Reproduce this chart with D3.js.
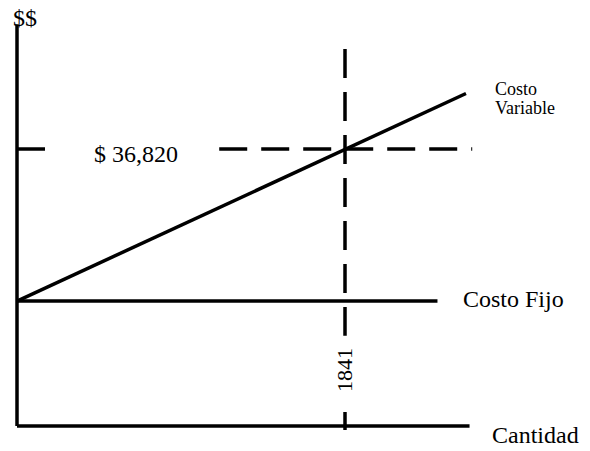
<!DOCTYPE html>
<html>
<head>
<meta charset="utf-8">
<script src="https://cdn.jsdelivr.net/npm/d3@7"></script>
<style>
  body { margin: 0; background: #fff; }
</style>
</head>
<body>
<script>
// punto de equilibrio
const equilibrioQ = 1841
const equilibrioCosto = 36820
// costo fijo y linea de costo variable (cantidad, $)
const costoFijo = [[0, 16600], [2360, 16600]]
const costoVariable = [[0, 16600], [2520, 44200]]
// ejes
const ejeX = [[0, 0], [2540, 0]]
const ejeY = [[0, 0], [0, 53400]]
// guias punteadas
const guiaH = [[[0, 36820], [170, 36820]], [[1135, 36820], [2555, 36820]]]
const guiaV = [[[1841, 50100], [1841, 12000]], [[1841, 1860], [1841, -530]]]

const w = 590
const h = 451

const svg = d3.select("body")
  .append("svg")
  .attr("width", w)
  .attr("height", h)
  .style("font-family", "'Liberation Serif', 'Times New Roman', 'DejaVu Serif', serif")

const xScale = d3.scaleLinear()
  .domain([0, equilibrioQ])
  .range([17, 345])
const yScale = d3.scaleLinear()
  .domain([0, equilibrioCosto])
  .range([426, 149])

const line = d3.line()
  .x(d => xScale(d[0]))
  .y(d => yScale(d[1]))

// ejes
svg.selectAll(".eje")
  .data([ejeX, ejeY])
  .enter()
  .append("path")
  .attr("class", "eje")
  .attr("d", line)
  .attr("stroke", "#000")
  .attr("stroke-width", 3.5)
  .attr("fill", "none")

// guias punteadas
svg.selectAll(".guiaH")
  .data(guiaH)
  .enter()
  .append("path")
  .attr("d", line)
  .attr("stroke", "#000")
  .attr("stroke-width", 3.5)
  .attr("stroke-dasharray", "28,14")
  .attr("fill", "none")

svg.selectAll(".guiaV")
  .data(guiaV)
  .enter()
  .append("path")
  .attr("d", line)
  .attr("stroke", "#000")
  .attr("stroke-width", 3.5)
  .attr("stroke-dasharray", "29,14")
  .attr("fill", "none")

// costos
svg.selectAll(".costo")
  .data([costoFijo, costoVariable])
  .enter()
  .append("path")
  .attr("class", "costo")
  .attr("d", line)
  .attr("stroke", "#000")
  .attr("stroke-width", 3.5)
  .attr("fill", "none")

// textos
svg.append("text")
  .attr("x", 13)
  .attr("y", 26)
  .style("font-size", "24px")
  .text("$$")

svg.append("text")
  .attr("x", 94)
  .attr("y", yScale(equilibrioCosto) + 13)
  .style("font-size", "24px")
  .text("$ " + d3.format(",")(equilibrioCosto))

svg.append("text")
  .attr("transform", "translate(" + (xScale(equilibrioQ) + 7) + ",392) rotate(-90)")
  .style("font-size", "22px")
  .text(equilibrioQ)

svg.append("text")
  .attr("x", 463)
  .attr("y", 307)
  .style("font-size", "24px")
  .text("Costo Fijo")

svg.append("text")
  .attr("x", 492)
  .attr("y", 443)
  .style("font-size", "24px")
  .text("Cantidad")

const cv = svg.append("text")
  .attr("x", 495)
  .attr("y", 95)
  .style("font-size", "18px")
cv.append("tspan").attr("x", 495).text("Costo")
cv.append("tspan").attr("x", 495).attr("dy", 19).text("Variable")
</script>
</body>
</html>
